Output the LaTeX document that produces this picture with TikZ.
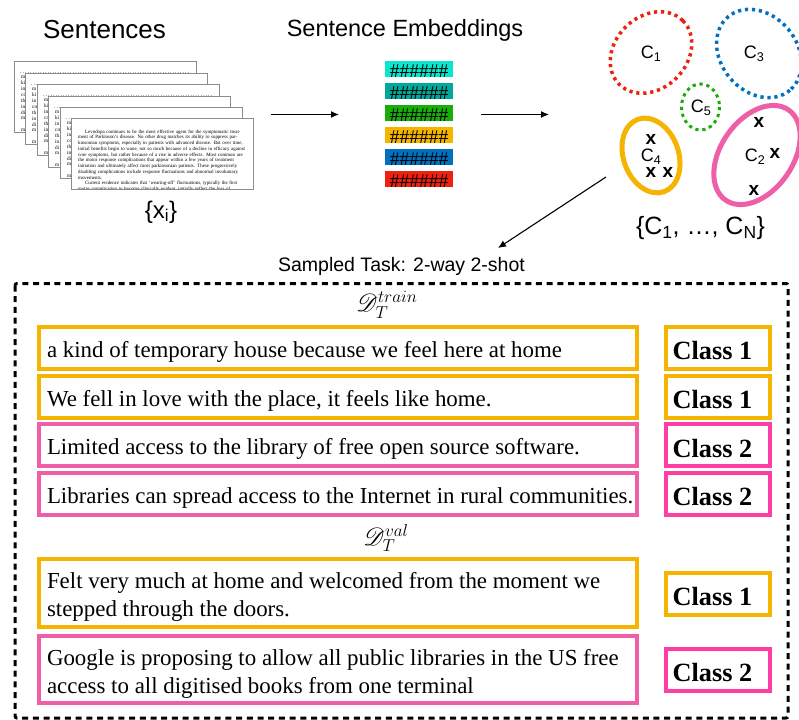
\documentclass[tikz,border=0pt]{standalone}
\usepackage{amsmath}
\usepackage{mathrsfs}
\usepackage{fontspec}
\setmainfont{Liberation Serif}
\setsansfont{Liberation Sans}
\usetikzlibrary{arrows.meta}
\definecolor{cgold}{HTML}{F5B400}
\definecolor{cpink}{HTML}{EE5FA7}
\definecolor{chot}{HTML}{FF3EA5}
\definecolor{cred}{HTML}{EE2010}
\definecolor{cblue}{HTML}{0070C0}
\definecolor{cgreen}{HTML}{18AD08}
\definecolor{cteal}{HTML}{00A89A}
\definecolor{ccyan}{HTML}{0AE6CE}
\tikzset{
 x=1pt,y=-1pt,
 head/.style={font=\sffamily\fontsize{#1}{#1}\selectfont,inner sep=0pt},
 lab/.style={font=\sffamily\fontsize{18}{18}\selectfont,inner sep=0pt},
 cross/.style={font=\sffamily\bfseries\fontsize{19}{19}\selectfont,inner sep=0pt},
 page/.style={draw=black!45,line width=.9pt,fill=white,minimum width=182pt,minimum height=71pt,inner sep=0pt,outer sep=0pt,anchor=north west},
 strip/.style={font=\rmfamily\fontsize{5.3}{5.9}\selectfont,inner sep=0pt,anchor=north west,align=left},
 emb/.style={minimum width=68pt,minimum height=16pt,inner sep=0pt,outer sep=0pt,anchor=north west,font=\rmfamily\fontsize{19.5}{19.5}\selectfont,text=black},
 conn/.style={line width=1.1pt,-{Latex[length=8pt,width=7pt]}},
 sent/.style={draw=#1,line width=4pt,fill=white,anchor=north west,inner xsep=8pt,inner ysep=0pt,outer sep=0pt,align=left,font=\rmfamily\fontsize{22.9}{28}\selectfont,text=black},
 cls/.style={draw=#1,line width=4pt,fill=white,minimum width=104pt,minimum height=42pt,inner sep=0pt,outer sep=0pt,font=\rmfamily\bfseries\fontsize{26.3}{26.3}\selectfont,text=black},
 dots/.style={draw=#1,line width=3.5pt,dash pattern=on 3.2pt off 3.8pt},
 solidell/.style={draw=#1,line width=5pt},
 scr/.style={inner sep=0pt,font=\fontsize{27}{27}\selectfont}
}
\newcommand{\hashes}{\raisebox{-2pt}[\height][\depth]{\#\#\#\#\#\#}}
\newcommand{\clsname}[1]{\raisebox{-3pt}[\height][\depth]{\hspace*{-10pt}#1\hspace*{1pt}}}
\newcommand{\sline}[1]{\raisebox{-4pt}[\height][\depth]{\makebox[582pt][l]{#1}}}
\newcommand{\jline}[1]{\hbox to 167pt{#1}}
\begin{document}
\begin{tikzpicture}
\useasboundingbox (0,0) rectangle (799,719);
\fill[white] (0,0) rectangle (799,719);
\node[head=26] (tsent) at (104.5,30) {Sentences};
\node[head=23.5] (temb) at (405,30) {Sentence Embeddings};
% pages
\foreach \n/\x/\y in {p1/14/61,p2/25/73,p3/37/84,p4/48/96,p5/60/107}{
 \node[page] (\n) at (\x,\y) {};
 \draw[black!30,line width=.5pt,dotted] (\x+6,\y+11) -- (\x+176,\y+11);
 \node[strip] at (\x+7,\y+15) {m\\ki\\in\\co\\th\\in\\di\\m\\[6pt]m};
}
\node[page] (p6) at (71,118) {};
\begin{scope}
\clip (71.5,118.5) rectangle (252.5,188.5);
\node[inner sep=0pt,anchor=north west,text width=167pt,font=\rmfamily\fontsize{4.9}{5.75}\selectfont] at (78,129.5) {%
\jline{\hspace*{7pt}Levodopa continues to be the most effective agent for the symptomatic treat-}
\jline{ment of Parkinson's disease. No other drug matches its ability to suppress par-}
\jline{kinsonian symptoms, especially in patients with advanced disease. But over time,}
\jline{initial benefits begin to wane, not so much because of a decline in efficacy against}
\jline{core symptoms, but rather because of a rise in adverse effects. Most common are}
\jline{the motor response complications that appear within a few years of treatment}
\jline{initiation and ultimately affect most parkinsonian patients. These progressively}
\jline{disabling complications include response fluctuations and abnormal involuntary}
\jline{movements.\hss}
\jline{\hspace*{7pt}Current evidence indicates that ‘wearing-off’ fluctuations, typically the first}
\jline{motor complication to become clinically evident, initially reflect the loss of}};
\end{scope}
\node[head=24] (xi) at (161,212) {\{x\textsubscript{\fontsize{17}{17}\selectfont i}\}};
% embeddings
\foreach \n/\y/\c in {e1/61/ccyan,e2/83/cteal,e3/105/cgreen,e4/127/cgold,e5/149/cblue,e6/171/cred}{
 \node[emb,fill=\c] (\n) at (385,\y) {\hashes};
}
\coordinate (a1s) at (271,114.5);
\coordinate (a1e) at (339,114.5);
\draw[conn] (a1s) -- (a1e);
\coordinate (a2s) at (481,114.5);
\coordinate (a2e) at (549,114.5);
\draw[conn] (a2s) -- (a2e);
% clusters
\draw[dots=cred] (651,52.5) ellipse[x radius=45,y radius=36,rotate=45];
\draw[dots=cblue] (759,53.5) ellipse[x radius=48,y radius=38,rotate=-50];
\draw[dots=cgreen,line width=3pt] (700.5,107) ellipse[x radius=19,y radius=23];
\draw[solidell=cgold] (651,155.5) ellipse[x radius=38.5,y radius=27.5,rotate=-70];
\draw[solidell=cpink] (757,155) ellipse[x radius=55,y radius=36,rotate=55];
\node[lab] (c1) at (651,54) {C\textsubscript{1}};
\node[lab] (c3) at (754,54) {C\textsubscript{3}};
\node[lab] (c5) at (701,108) {C\textsubscript{5}};
\node[lab] (c4) at (651,157) {C\textsubscript{4}};
\node[lab] (c2) at (755,157) {C\textsubscript{2}};
\node[cross] at (651,139) {x};
\node[cross] at (651,172) {x};
\node[cross] at (668,172) {x};
\node[cross] at (759,122) {x};
\node[cross] at (775,153) {x};
\node[cross] at (754,190) {x};
\node[head=25] (cset) at (700.5,228) {\{C\textsubscript{1}, …, C\textsubscript{N}\}};
\coordinate (a3s) at (606,177);
\coordinate (a3e) at (498,248);
\draw[conn] (a3s) -- (a3e);
\node[head=19.5] (task) at (401.5,266) {Sampled Task: 2-way 2-shot};
\draw[line width=3pt,dash pattern=on 6pt off 4.7pt,rounded corners=2pt] (15,283.5) rectangle (788,718);
\node[scr] (dtr) at (387,305) {$\mathscr{D}_{T}^{train}$};
\node[scr] (dval) at (386,538) {$\mathscr{D}_{T}^{val}$};
% sentences
\node[sent=cgold,minimum height=42pt] (s1) at (39,327) {\sline{a kind of temporary house because we feel here at home}};
\node[sent=cgold,minimum height=42pt] (s2) at (39,376) {\sline{We fell in love with the place, it feels like home.}};
\node[sent=cpink,minimum height=42pt] (s3) at (39,424) {\sline{Limited access to the library of free open source software.}};
\node[sent=cpink,minimum height=42pt] (s4) at (39,473) {\sline{Libraries can spread access to the Internet in rural communities.}};
\node[sent=cgold,minimum height=68pt] (s5) at (39,559) {\sline{Felt very much at home and welcomed from the moment we}\\\sline{stepped through the doors.}};
\node[sent=cpink,minimum height=67pt] (s6) at (39,636) {\sline{Google is proposing to allow all public libraries in the US free}\\\sline{access to all digitised books from one terminal}};
\node[cls=cgold] (k1) at (718,348) {\clsname{Class 1}};
\node[cls=cgold] (k2) at (718,397) {\clsname{Class 1}};
\node[cls=chot] (k3) at (718,445) {\clsname{Class 2}};
\node[cls=chot] (k4) at (718,493.5) {\clsname{Class 2}};
\node[cls=cgold] (k5) at (718,593.5) {\clsname{Class 1}};
\node[cls=chot] (k6) at (718,669.5) {\clsname{Class 2}};
\end{tikzpicture}
\end{document}
